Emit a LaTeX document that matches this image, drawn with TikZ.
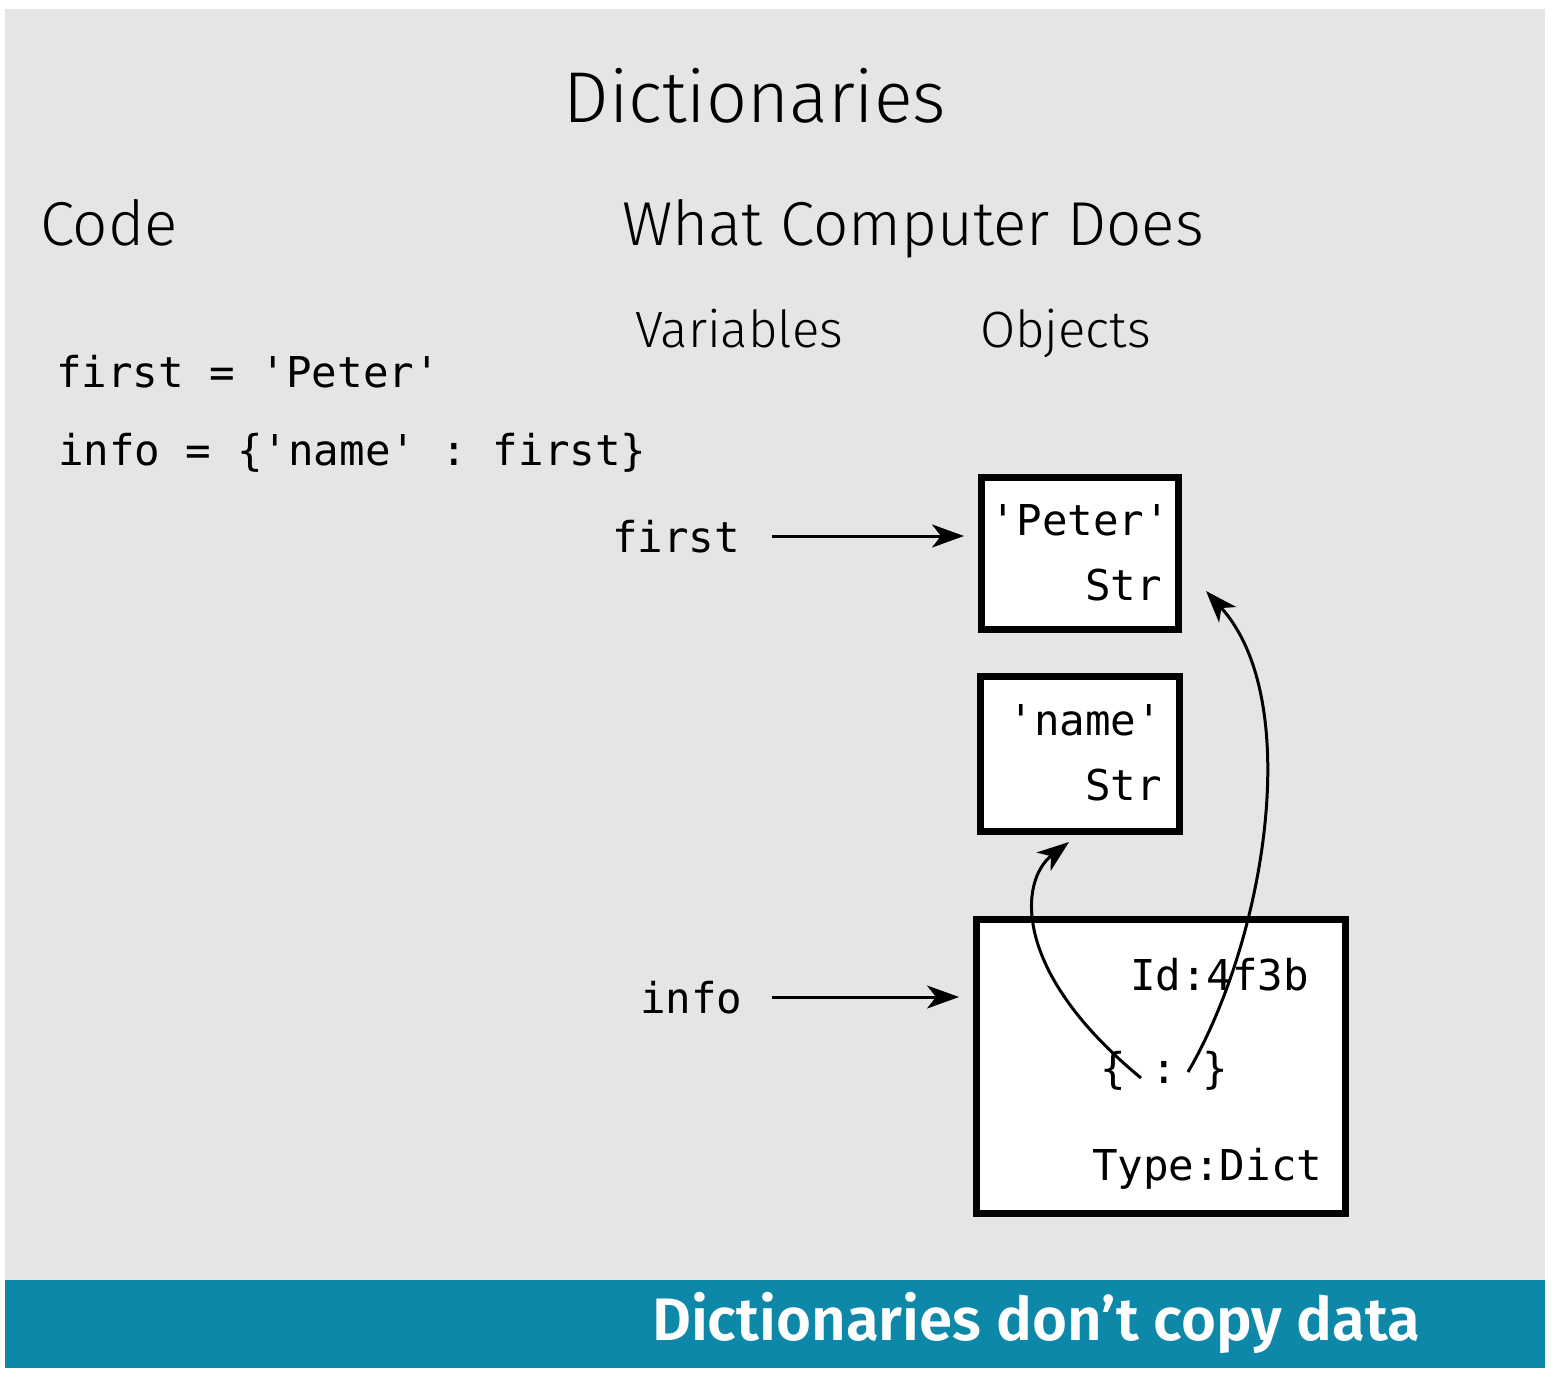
\documentclass[tikz,border=0pt]{standalone}
\usepackage{fontspec}
\setmainfont{Fira Sans Light}
\newfontfamily\bannerfont{Fira Sans SemiBold}
\setmonofont{DejaVu Sans Mono}
\usetikzlibrary{arrows.meta}
\definecolor{bggray}{HTML}{E5E5E5}
\definecolor{teal}{HTML}{0E88A8}
\tikzset{
  txt/.style={inner sep=0pt, outer sep=0pt},
  code/.style={txt, font=\ttfamily\fontsize{42.5}{46}\selectfont},
  objbox/.style={draw, line width=7pt, fill=white, inner sep=0pt},
  arr/.style={line width=3pt, -{Stealth[length=32pt, width=23pt, inset=9pt]}},
}
\begin{document}
\begin{tikzpicture}[x=1pt, y=-1pt]
\useasboundingbox (0,0) rectangle (1558,1386);
\fill[bggray] (5,9) rectangle (1545,1280);
\fill[teal] (5,1280) rectangle (1545,1368);

\node[txt, anchor=base, font=\fontsize{72}{78}\selectfont] (title) at (755,123) {Dictionaries};
\node[txt, anchor=base west, font=\fontsize{62}{68}\selectfont] (code) at (40,245) {Code};
\node[txt, anchor=base west, font=\fontsize{62}{68}\selectfont] (wcd) at (622,245) {What Computer Does};
\node[txt, anchor=base west, font=\fontsize{51}{56}\selectfont] (vars) at (635,347) {Variables};
\node[txt, anchor=base west, font=\fontsize{51}{56}\selectfont] (objs) at (980,347) {Objects};

\node[code, anchor=base west] (line1) at (56,387) {first = 'Peter'};
\node[code, anchor=base west] (line2) at (58,465) {info = \{'name' : first\}};

\node[code, anchor=base west] (firstlbl) at (612,552) {first};
\node[code, anchor=base west] (infolbl) at (640,1013) {info};

\node[objbox, minimum width=197pt, minimum height=152pt] (pbox) at (1080,553.5) {};
\node[objbox, minimum width=199pt, minimum height=155pt] (nbox) at (1080,754) {};
\node[objbox, minimum width=369pt, minimum height=294pt] (dbox) at (1161,1066.5) {};

\node[code, anchor=base east] (ptext) at (1170,535) {'Peter'};
\node[code, anchor=base east] (ptype) at (1162,600) {Str};
\node[code, anchor=base east] (ntext) at (1162,735) {'name'};
\node[code, anchor=base east] (ntype) at (1162,800) {Str};
\node[code, anchor=base west] (did) at (1130,990) {Id:4f3b};
\node[code, anchor=base west] (dbr) at (1100,1083) {\{ : \}};
\node[code, anchor=base west] (dtype) at (1092,1180) {Type:Dict};

\coordinate (fa) at (772,536);
\coordinate (ia) at (772,997);
\draw[arr, shorten >=14pt] (fa) -- (fa -| pbox.west);
\draw[arr, shorten >=14pt] (ia) -- (ia -| dbox.west);

\coordinate (k1) at (1141,1078);
\coordinate (t1) at (1069,842);
\coordinate (k2) at (1188,1072);
\coordinate (t2) at (1206,591);
\draw[arr] (k1) .. controls (1010,970) and (1020,880) .. (t1);
\draw[arr] (k2) .. controls (1265,940) and (1305,700) .. (t2);

\node[txt, anchor=base west, text=white, font=\bannerfont\fontsize{60}{66}\selectfont] (banner) at (652,1340) {Dictionaries don’t copy data};
\end{tikzpicture}
\end{document}
